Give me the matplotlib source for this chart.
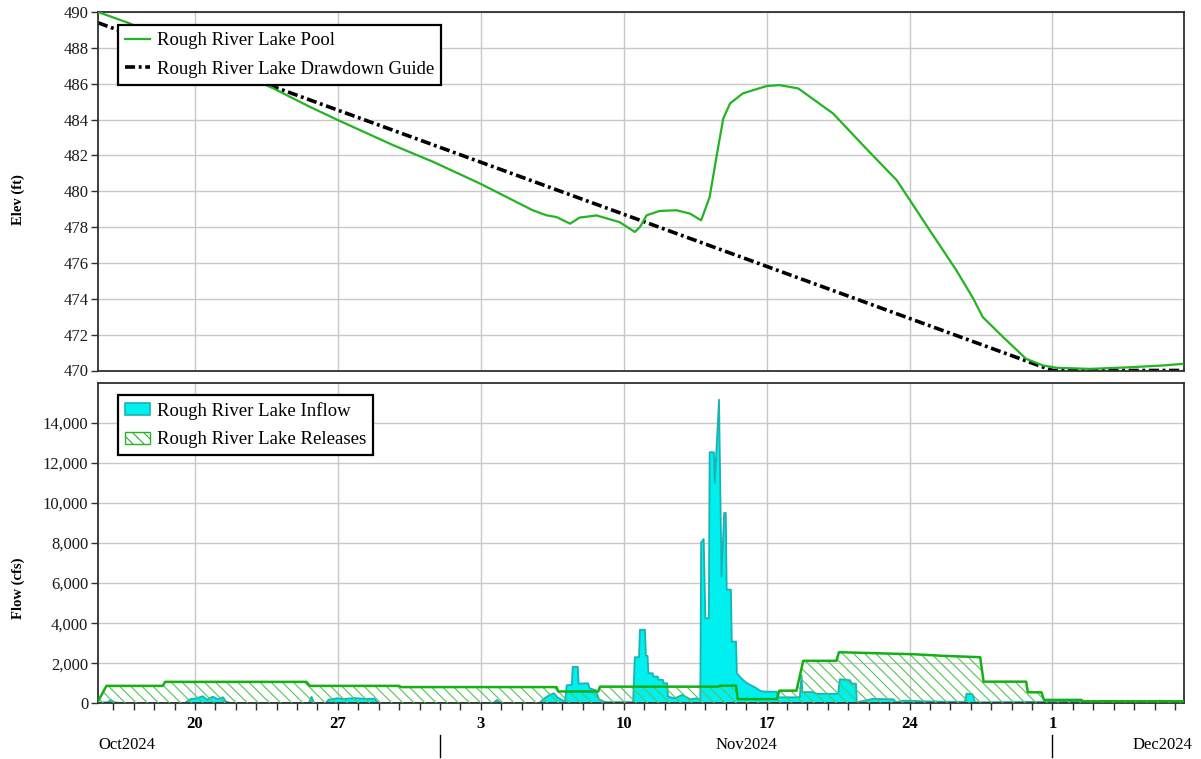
import matplotlib
matplotlib.use("Agg")
import matplotlib.pyplot as plt
import matplotlib.dates as mdates
import matplotlib.transforms as mtransforms
from matplotlib.patches import Patch
from matplotlib.lines import Line2D
from matplotlib.ticker import FuncFormatter, FixedLocator
import pandas as pd

plt.rcParams['font.family'] = ['Liberation Serif', 'DejaVu Serif']
plt.rcParams['hatch.linewidth'] = 0.8

# --- Rough River Lake, Oct-Dec 2024 ---
pool_time = ['2024-10-15 06:00', '2024-10-16 19:00', '2024-10-20 00:00', '2024-10-23 20:00',
             '2024-10-25 15:00', '2024-10-27 00:00', '2024-10-29 17:00', '2024-10-31 16:00',
             '2024-11-02 23:00', '2024-11-04 22:00', '2024-11-05 13:00', '2024-11-06 05:00',
             '2024-11-06 17:00', '2024-11-07 09:00', '2024-11-07 20:00', '2024-11-08 16:00',
             '2024-11-09 19:00', '2024-11-10 13:00', '2024-11-10 19:00', '2024-11-11 03:00',
             '2024-11-11 18:00', '2024-11-12 14:00', '2024-11-13 06:00', '2024-11-13 19:00',
             '2024-11-14 05:00', '2024-11-14 13:00', '2024-11-14 21:00', '2024-11-15 05:00',
             '2024-11-15 20:00', '2024-11-17 00:00', '2024-11-17 15:00', '2024-11-18 13:00',
             '2024-11-20 06:00', '2024-11-21 21:00', '2024-11-23 09:00', '2024-11-25 00:00',
             '2024-11-26 07:00', '2024-11-27 03:00', '2024-11-27 14:00', '2024-11-28 14:00',
             '2024-11-29 17:00', '2024-11-30 13:00', '2024-12-01 05:00', '2024-12-02 20:00',
             '2024-12-04 19:00', '2024-12-06 10:00', '2024-12-07 09:00']
pool_elev = [490.0, 489.37, 487.7, 485.74,
             484.71, 483.97, 482.57, 481.64,
             480.43, 479.3, 478.94, 478.66,
             478.56, 478.19, 478.53, 478.65,
             478.28, 477.73, 478.0, 478.66,
             478.9, 478.94, 478.75, 478.38,
             479.68, 481.92, 484.06, 484.9,
             485.46, 485.87, 485.92, 485.74,
             484.34, 482.38, 480.61, 477.8,
             475.59, 474.0, 472.98, 471.86,
             470.65, 470.28, 470.15, 470.09,
             470.18, 470.28, 470.37]

guide_time = ['2024-10-15 06:00', '2024-12-01 00:00', '2024-12-07 10:00']
guide_elev = [489.4, 470.0, 470.0]

inflow_time = ['2024-10-15 06:00', '2024-10-15 18:00', '2024-10-15 21:00', '2024-10-16 01:00',
               '2024-10-16 08:00', '2024-10-19 12:00', '2024-10-19 18:00', '2024-10-20 02:00',
               '2024-10-20 09:00', '2024-10-20 14:00', '2024-10-20 21:00', '2024-10-21 03:00',
               '2024-10-21 09:00', '2024-10-21 12:00', '2024-10-21 17:00', '2024-10-25 14:00',
               '2024-10-25 17:00', '2024-10-25 20:00', '2024-10-26 10:00', '2024-10-26 13:00',
               '2024-10-26 23:00', '2024-10-27 08:00', '2024-10-27 20:00', '2024-10-28 08:00',
               '2024-10-28 19:00', '2024-10-28 23:00', '2024-11-03 15:00', '2024-11-03 19:00',
               '2024-11-03 23:00', '2024-11-05 21:00', '2024-11-06 03:00', '2024-11-06 09:00',
               '2024-11-06 14:00', '2024-11-06 18:00', '2024-11-07 03:00', '2024-11-07 05:00',
               '2024-11-07 11:00', '2024-11-07 12:00', '2024-11-07 18:00', '2024-11-07 19:00',
               '2024-11-08 06:00', '2024-11-08 08:00', '2024-11-08 15:00', '2024-11-08 19:00',
               '2024-11-09 02:00', '2024-11-10 11:00', '2024-11-10 13:00', '2024-11-10 18:00',
               '2024-11-10 19:00', '2024-11-11 01:00', '2024-11-11 02:00', '2024-11-11 04:00',
               '2024-11-11 05:00', '2024-11-11 10:00', '2024-11-11 11:00', '2024-11-11 16:00',
               '2024-11-11 17:00', '2024-11-11 22:00', '2024-11-11 23:00', '2024-11-12 03:00',
               '2024-11-12 04:00', '2024-11-12 12:00', '2024-11-12 21:00', '2024-11-13 06:00',
               '2024-11-13 14:00', '2024-11-13 18:00', '2024-11-13 19:00', '2024-11-13 22:00',
               '2024-11-14 00:00', '2024-11-14 04:00', '2024-11-14 05:00', '2024-11-14 10:00',
               '2024-11-14 11:00', '2024-11-14 16:00', '2024-11-14 19:00', '2024-11-14 22:00',
               '2024-11-15 00:00', '2024-11-15 01:00', '2024-11-15 06:00', '2024-11-15 07:00',
               '2024-11-15 12:00', '2024-11-15 13:00', '2024-11-15 18:00', '2024-11-16 00:00',
               '2024-11-16 05:00', '2024-11-16 11:00', '2024-11-16 17:00', '2024-11-16 23:00',
               '2024-11-17 12:00', '2024-11-17 13:00', '2024-11-18 15:00', '2024-11-18 17:00',
               '2024-11-18 18:00', '2024-11-19 06:00', '2024-11-19 11:00', '2024-11-20 12:00',
               '2024-11-20 14:00', '2024-11-21 02:00', '2024-11-21 04:00', '2024-11-21 09:00',
               '2024-11-21 10:00', '2024-11-22 05:00', '2024-11-23 05:00', '2024-11-23 08:00',
               '2024-11-23 17:00', '2024-11-23 22:00', '2024-11-24 16:00', '2024-11-26 17:00',
               '2024-11-26 19:00', '2024-11-27 02:00', '2024-11-27 05:00', '2024-12-01 09:00',
               '2024-12-03 07:00', '2024-12-05 06:00', '2024-12-06 06:00', '2024-12-07 10:00']
inflow_cfs = [20, 60, 170, 60,
              10, 10, 200, 250,
              350, 180, 330, 200,
              300, 100, 20, 20,
              320, 20, 20, 180,
              250, 220, 260, 220,
              230, 20, 20, 170,
              20, 20, 250, 420,
              500, 300, 80, 900,
              920, 1820, 1820, 980,
              1000, 750, 650, 200,
              60, 60, 2300, 2300,
              3670, 3670, 2370, 2370,
              1500, 1500, 1330, 1330,
              1170, 1170, 1000, 1000,
              330, 250, 420, 200,
              250, 150, 8030, 8200,
              4250, 4250, 12530, 12530,
              11000, 15150, 6330, 9500,
              9500, 5670, 5670, 3080,
              3080, 1500, 1250, 1030,
              910, 780, 610, 580,
              580, 300, 300, 1400,
              560, 560, 475, 475,
              1200, 1150, 980, 980,
              50, 220, 200, 50,
              130, 130, 100, 60,
              480, 450, 50, 80,
              120, 80, 130, 90]

release_time = ['2024-10-15 06:00', '2024-10-15 16:00', '2024-10-18 10:00', '2024-10-18 13:00',
                '2024-10-25 11:00', '2024-10-25 15:00', '2024-10-30 00:00', '2024-10-30 02:00',
                '2024-11-06 17:00', '2024-11-06 19:00', '2024-11-08 18:00', '2024-11-08 20:00',
                '2024-11-14 15:00', '2024-11-14 17:00', '2024-11-15 12:00', '2024-11-15 14:00',
                '2024-11-17 12:00', '2024-11-17 15:00', '2024-11-18 11:00', '2024-11-18 19:00',
                '2024-11-20 10:00', '2024-11-20 13:00', '2024-11-23 01:00', '2024-11-24 04:00',
                '2024-11-25 15:00', '2024-11-27 11:00', '2024-11-27 15:00', '2024-11-29 17:00',
                '2024-11-29 19:00', '2024-11-30 11:00', '2024-11-30 14:00', '2024-12-02 10:00',
                '2024-12-02 12:00', '2024-12-07 10:00']
release_cfs = [100, 870, 870, 1070,
               1070, 870, 870, 810,
               810, 590, 590, 830,
               830, 880, 880, 210,
               210, 630, 630, 2120,
               2120, 2550, 2480, 2450,
               2370, 2300, 1080, 1080,
               550, 550, 170, 170,
               100, 100]

elev_ticks = list(range(470, 491, 2))
flow_ticks = list(range(0, 14001, 2000))

start = pd.Timestamp('2024-10-15 06:00')
end = pd.Timestamp('2024-12-07 10:00')

W, H = 1201, 759
fig = plt.figure(figsize=(W / 100, H / 100), dpi=100)
ax1 = fig.add_axes([98 / W, 1 - 370.5 / H, 1085.5 / W, 358.5 / H])
ax2 = fig.add_axes([98 / W, 1 - 703.3 / H, 1085.5 / W, 320.6 / H])

grid_kw = dict(color='#c8c8c8', linewidth=1.0)
spine_col = '#303030'

for ax in (ax1, ax2):
    ax.set_xlim(start, end)
    ax.set_axisbelow(True)
    ax.xaxis.set_major_locator(mdates.WeekdayLocator(byweekday=mdates.SU))
    ax.xaxis.set_minor_locator(mdates.DayLocator())
    ax.grid(True, which='major', **grid_kw)
    for s in ax.spines.values():
        s.set_color(spine_col)
        s.set_linewidth(1.3)
    ax.tick_params(axis='y', which='major', length=5, width=1, color=spine_col,
                   labelsize=12, labelcolor='#1a1a1a', pad=2)

# elevation panel
ax1.plot(pd.to_datetime(pool_time), pool_elev, color='#22b422', lw=1.6,
         label='Rough River Lake Pool', zorder=3)
ax1.plot(pd.to_datetime(guide_time), guide_elev, color='black', lw=2.6,
         linestyle=(0, (2.8, 1.0, 0.8, 1.0)), label='Rough River Lake Drawdown Guide', zorder=2)
ax1.set_ylim(470, 490)
ax1.yaxis.set_major_locator(FixedLocator(elev_ticks))
ax1.tick_params(axis='x', which='both', bottom=False, labelbottom=False)

legend_kw = dict(loc='upper left', borderaxespad=0, fontsize=13.5, frameon=True,
                 fancybox=False, edgecolor='black', framealpha=1, handlelength=1.35,
                 handletextpad=0.35, labelspacing=0.62, borderpad=0.38)
leg1 = ax1.legend(bbox_to_anchor=(20 / 1085.5, 1 - 13 / 358.5), **legend_kw)
leg1.get_frame().set_linewidth(1.6)

# flow panel
t_in = pd.to_datetime(inflow_time)
t_rel = pd.to_datetime(release_time)
ax2.fill_between(t_in, 0, inflow_cfs, facecolor='#00f0f0', edgecolor='none', zorder=2)
ax2.plot(t_in, inflow_cfs, color='#19b3b3', lw=1.3, zorder=2.1)
ax2.fill_between(t_rel, 0, release_cfs, facecolor='none', edgecolor='#55c455',
                 hatch='\\\\\\', linewidth=0, zorder=3)
ax2.plot(t_rel, release_cfs, color='#14b014', lw=1.8, zorder=3.1)
ax2.set_ylim(0, 16000)
ax2.yaxis.set_major_locator(FixedLocator(flow_ticks))
ax2.yaxis.set_major_formatter(FuncFormatter(lambda v, p: f'{v:,.0f}'))
ax2.xaxis.set_major_formatter(FuncFormatter(lambda v, p: str(mdates.num2date(v).day)))
ax2.tick_params(axis='x', which='both', length=5, width=1, color=spine_col,
                labelsize=12, pad=4)
for lbl in ax2.get_xticklabels():
    lbl.set_fontweight('bold')

handles = [Patch(facecolor='#00f0f0', edgecolor='#19b3b3', linewidth=1.2),
           Patch(facecolor='white', edgecolor='#22b422', hatch='\\\\\\', linewidth=1.0)]
leg2 = ax2.legend(handles, ['Rough River Lake Inflow', 'Rough River Lake Releases'],
                  bbox_to_anchor=(20 / 1085.5, 1 - 12 / 320.6), handleheight=0.6,
                  **legend_kw)
leg2.get_frame().set_linewidth(1.6)

# month row under the day labels
trans = mtransforms.blended_transform_factory(ax2.transData, fig.transFigure)
ax2.text(start, 1 - 745 / H, 'Oct2024', transform=trans, fontsize=12,
         ha='left', va='center')
ax2.text(pd.Timestamp('2024-11-16'), 1 - 745 / H, 'Nov2024', transform=trans,
         fontsize=12, ha='center', va='center')
ax2.text(end + pd.Timedelta(hours=10), 1 - 745 / H, 'Dec2024', transform=trans,
         fontsize=12, ha='right', va='center', clip_on=False)
for m in ['2024-11-01', '2024-12-01']:
    x = mdates.date2num(pd.Timestamp(m))
    fig.add_artist(Line2D([x, x], [1 - 735 / H, 1 - 757 / H], transform=trans,
                          color='black', lw=1))

fig.text(18 / W, 1 - 200 / H, 'Elev (ft)', rotation=90, fontsize=10.5,
         fontweight='bold', ha='center', va='center')
fig.text(18 / W, 1 - 588 / H, 'Flow (cfs)', rotation=90, fontsize=10.5,
         fontweight='bold', ha='center', va='center')

fig.savefig('out.png', dpi=100)
